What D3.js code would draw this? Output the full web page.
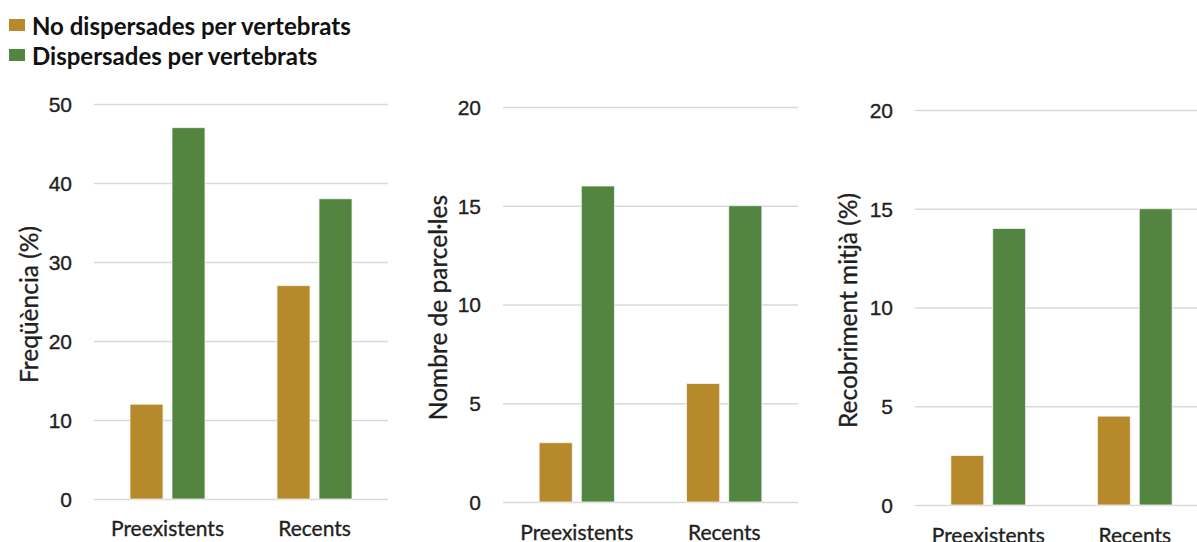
<!DOCTYPE html>
<html>
<head>
<meta charset="utf-8">
<script src="https://cdn.jsdelivr.net/npm/d3@7"></script>
<style>
  html, body { margin: 0; padding: 0; background: #fff; }
  svg { display: block; font-family: Lato, "Open Sans", sans-serif; }
</style>
</head>
<body>
<svg id="chart" width="1197" height="542"></svg>
<script>
// Categories and series
const categories = ["Preexistents", "Recents"];
const seriesNames = ["No dispersades per vertebrats", "Dispersades per vertebrats"];
const seriesColors = ["#B68A2A", "#538540"];

// Panel 1: frequency (%)
const freqNoDisp = [12, 27];
const freqDisp = [47, 38];
const freqTicks = [0, 10, 20, 30, 40, 50];

// Panel 2: number of plots
const plotsNoDisp = [3, 6];
const plotsDisp = [16, 15];
const plotsTicks = [0, 5, 10, 15, 20];

// Panel 3: mean cover (%)
const coverNoDisp = [2.5, 4.5];
const coverDisp = [14, 15];
const coverTicks = [0, 5, 10, 15, 20];

const yTitles = ["Freqüència (%)", "Nombre de parcel·les", "Recobriment mitjà (%)"];

const svg = d3.select("#chart");
const textColor = "#1f1f1f";

// Panel geometry
const panels = [
  { values: [freqNoDisp, freqDisp], ticks: freqTicks, title: yTitles[0],
    x0: 94, x1: 388, yTop: 104, yBottom: 499, titleX: 28, labelY: 536 },
  { values: [plotsNoDisp, plotsDisp], ticks: plotsTicks, title: yTitles[1],
    x0: 503, x1: 798, yTop: 107, yBottom: 502, titleX: 437, labelY: 540 },
  { values: [coverNoDisp, coverDisp], ticks: coverTicks, title: yTitles[2],
    x0: 915, x1: 1208, yTop: 110, yBottom: 505, titleX: 847, labelY: 543 }
];

// Slightly heavier strokes on regular text
function weightText(sel) {
  sel.attr("stroke", textColor).attr("stroke-width", 0.35);
}

panels.forEach(p => {
  const g = svg.append("g");
  const x = d3.scaleBand().domain(categories).range([p.x0, p.x1]).padding(0);
  const xs = d3.scaleBand().domain(d3.range(seriesNames.length))
    .range([0, x.bandwidth()]).paddingInner(0.214).paddingOuter(0.857);
  const y = d3.scaleLinear()
    .domain([0, d3.max(p.ticks)])
    .range([p.yBottom, p.yTop]);

  // Gridlines and tick labels
  const yAxis = d3.axisLeft(y).tickValues(p.ticks).tickSize(-(p.x1 - p.x0)).tickPadding(22);
  const ag = g.append("g").attr("transform", `translate(${p.x0},0)`).call(yAxis);
  ag.select(".domain").remove();
  ag.selectAll(".tick line").attr("stroke", "#d9d9d9").attr("stroke-width", 1.5);
  ag.selectAll(".tick text")
    .attr("fill", textColor)
    .style("font-size", "21px")
    .attr("dy", "0.35em")
    .call(weightText);

  // Bars
  categories.forEach((c, ci) => {
    p.values.forEach((vals, si) => {
      g.append("rect")
        .attr("x", x(c) + xs(si))
        .attr("width", xs.bandwidth())
        .attr("y", y(vals[ci]))
        .attr("height", y(0) - y(vals[ci]))
        .attr("fill", seriesColors[si])
        .attr("stroke", "#f4f4f4")
        .attr("stroke-width", 0.8);
    });
  });

  // Category labels
  g.selectAll(".cat")
    .data(categories)
    .enter().append("text")
    .attr("x", d => x(d) + x.bandwidth() / 2)
    .attr("y", p.labelY)
    .attr("text-anchor", "middle")
    .attr("fill", textColor)
    .style("font-size", "21px")
    .call(weightText)
    .text(d => d);

  // Axis title
  const cy = (p.yTop + p.yBottom) / 2 + 3;
  g.append("text")
    .attr("transform", `translate(${p.titleX},${cy}) rotate(-90)`)
    .attr("text-anchor", "middle")
    .attr("dominant-baseline", "central")
    .attr("fill", textColor)
    .style("font-size", "24.5px")
    .call(weightText)
    .text(p.title);
});

// Legend
const legend = svg.append("g");
seriesNames.forEach((name, i) => {
  const ly = 25 + i * 30;
  legend.append("rect")
    .attr("x", 9).attr("y", ly - 6)
    .attr("width", 16).attr("height", 12)
    .attr("fill", seriesColors[i]);
  legend.append("text")
    .attr("x", 32).attr("y", ly)
    .attr("dominant-baseline", "central")
    .attr("fill", "#111")
    .style("font-size", "24px")
    .style("font-weight", "bold")
    .text(name);
});
</script>
</body>
</html>
